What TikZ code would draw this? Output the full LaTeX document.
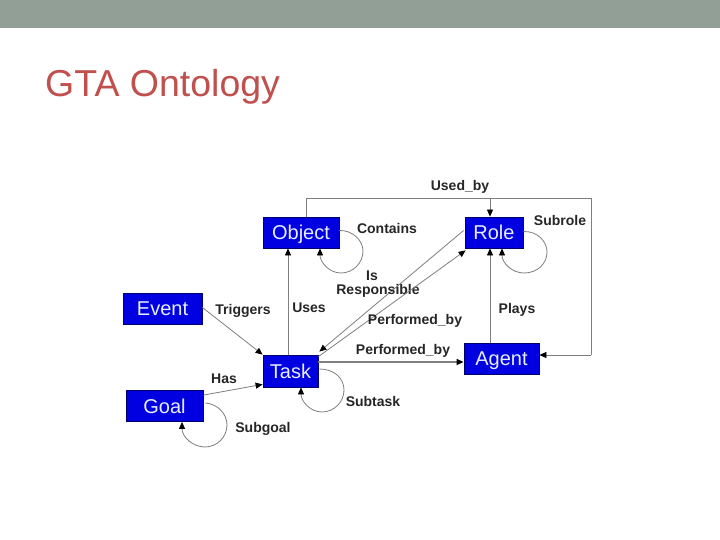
\documentclass[tikz,border=0pt]{standalone}
\usepackage{fontspec}
\setmainfont{Liberation Sans}
\usetikzlibrary{arrows.meta,calc}
\definecolor{barcol}{HTML}{919F96}
\definecolor{titlecol}{HTML}{C0504D}
\definecolor{boxblue}{HTML}{0000E0}
\definecolor{boxedge}{HTML}{00006A}
\definecolor{linecol}{HTML}{7F7F7F}
\definecolor{boxtext}{HTML}{E8EEFF}
\tikzset{
  cls/.style={draw=boxedge, fill=boxblue, text=boxtext, line width=0.8pt,
    font=\fontsize{20}{22}\selectfont, inner sep=0pt, minimum height=31pt,
    text height=14.3pt, text depth=0pt},
  rel/.style={draw=linecol, line width=0.8pt},
  arr/.style={rel, -{Triangle[length=7pt,width=6pt,fill=black,color=black]}},
  lbl/.style={font=\fontsize{14}{16}\selectfont\bfseries, text=black!85, inner sep=0pt}
}
\begin{document}
\begin{tikzpicture}[x=1pt,y=-1pt]
\useasboundingbox (0,0) rectangle (720,540);
\fill[white] (0,0) rectangle (720,540);
\fill[barcol] (0,0) rectangle (720,28);
\node[anchor=base west, text=titlecol, font=\fontsize{37.5}{40}\selectfont, inner sep=0pt] (title) at (45,97) {GTA Ontology};

% classes
\node[cls, minimum width=76pt] (Object) at (301,232.5) {Object};
\node[cls, minimum width=58pt] (Role) at (494,232.5) {Role};
\node[cls, minimum width=79pt] (Event) at (162.5,308.5) {Event};
\node[cls, minimum width=55pt, minimum height=32pt] (Task) at (290.5,371) {Task};
\node[cls, minimum width=77pt] (Goal) at (164.5,406) {Goal};
\node[cls, minimum width=75pt] (Agent) at (501.5,358.5) {Agent};

% helper coordinates
\coordinate (ub1) at (306,198);
\coordinate (ub2) at (591,198);
\coordinate (ub3) at (591,355);
\coordinate (ub4) at (490,198);
\coordinate (us) at (288,300);
\coordinate (pl) at (490,300);
\coordinate (pb) at (400,362);

% Used_by
\draw[rel] (ub1 |- Object.north) -- (ub1) -- (ub2) -- (ub3);
\draw[arr] (ub3) -- (ub3 -| Agent.east);
\draw[arr] (ub4) -- (ub4 |- Role.north);
\node[lbl] (lUsed) at (460,187) {Used\_by};

% Uses
\draw[arr] (us |- Task.north) -- (us |- Object.south);
\node[lbl] (lUses) at (309,308) {Uses};

% Plays
\draw[arr] (pl |- Agent.north) -- (pl |- Role.south);
\node[lbl] (lPlays) at (517,310) {Plays};

% Is Responsible
\draw[arr] ($(Role.west)+(-1,-2)$) -- ($(Task.north east)+(1,-3)$);
\node[lbl] (lIs) at (372,275.5) {Is};
\node[lbl] (lResp) at (378,291) {Responsible};

% Performed_by (diagonal)
\draw[arr] ($(Task.north east)+(0,2)$) -- ($(Role.south west)+(1,2)$);
\node[lbl] (lPerf1) at (415,321) {Performed\_by};

% Performed_by (horizontal)
\draw[arr, line width=1.4pt] (Task.east |- pb) -- (Agent.west |- pb);
\node[lbl] (lPerf2) at (403,351) {Performed\_by};

% Triggers
\draw[arr] ($(Event.east)+(0,-1)$) -- (Task.north west);
\node[lbl] (lTrig) at (243,311) {Triggers};

% Has
\draw[arr] ($(Goal.north east)+(0,5)$) -- ($(Task.south west)+(0,-3)$);
\node[lbl] (lHas) at (224,379) {Has};

% Contains loop
\draw[arr] ($(Object.east)+(0,-2)$) .. controls (352,230) and (363,240) .. (363,251)
  .. controls (363,263) and (353,273) .. (341,273)
  .. controls (329,273) and (320,262) .. ($(Object.south)+(19,0)$);
\node[lbl] (lCont) at (387,228) {Contains};

% Subrole loop
\draw[arr] ($(Role.east)+(0,-1)$) .. controls (537,231) and (547,241) .. (547,252)
  .. controls (547,264) and (537,273) .. (524,273)
  .. controls (512,273) and (502,263) .. ($(Role.south)+(8,0)$);
\node[lbl] (lSub) at (560,220) {Subrole};

% Subtask loop
\draw[arr] ($(Task.east)+(1,-2)$) .. controls (334,369) and (344,378) .. (344,390)
  .. controls (344,402) and (334,412) .. (322,412)
  .. controls (310,412) and (301,401) .. ($(Task.south)+(10.5,0)$);
\node[lbl] (lSubt) at (373,401) {Subtask};

% Subgoal loop
\draw[arr] ($(Goal.east)+(2,-3)$) .. controls (218,404) and (227,414) .. (227,425)
  .. controls (227,437) and (217,447) .. (205,447)
  .. controls (193,447) and (182,437) .. ($(Goal.south)+(17.5,0)$);
\node[lbl] (lSubg) at (263,429) {Subgoal};
\end{tikzpicture}
\end{document}
